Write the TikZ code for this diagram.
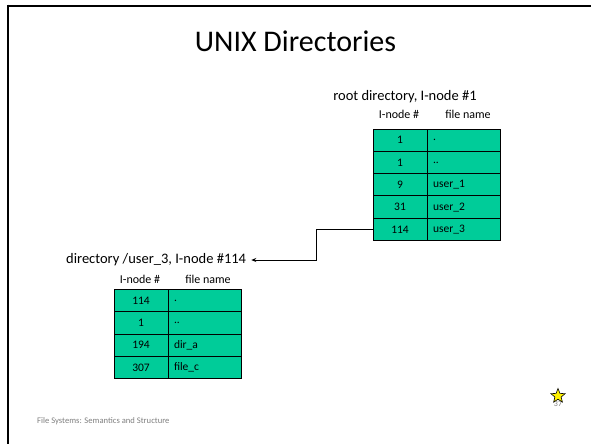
\documentclass[tikz,border=0pt]{standalone}
\usepackage{fontspec}
\setmainfont{Carlito}
\usetikzlibrary{shapes.geometric,arrows.meta}
\definecolor{cellgreen}{RGB}{0,204,153}
\definecolor{footgray}{RGB}{128,128,128}
\tikzset{
  numcell/.style={draw=black, line width=0.9pt, fill=cellgreen, minimum width=54pt, minimum height=22.3pt,
    inner sep=0pt, outer sep=0pt, font=\fontsize{11.5}{13}\selectfont, anchor=north west},
  namecell/.style={draw=black, line width=0.9pt, fill=cellgreen, minimum width=73pt, minimum height=22.3pt,
    inner sep=0pt, outer sep=0pt, font=\fontsize{11.5}{13}\selectfont, anchor=north west,
    text width=61pt, align=left},
  colhead/.style={font=\fontsize{12}{13}\selectfont, inner sep=0pt},
  dirlabel/.style={font=\fontsize{14.5}{16}\selectfont, inner sep=0pt},
  frame/.style={line width=2pt, black},
  link/.style={line width=0.9pt, black}
}
\begin{document}
\begin{tikzpicture}[x=1pt,y=-1pt]
  \useasboundingbox (0,0) rectangle (591,444);
  \fill[white] (0,0) rectangle (591,444);
  % slide frame
  \draw[frame] (7,5.7) -- (591,5.7);
  \draw[frame] (8.3,4.7) -- (8.3,444);

  % title
  \node[font=\fontsize{30}{34}\selectfont, inner sep=0pt] (title) at (295.5,41) {UNIX Directories};

  % root directory table
  \node[dirlabel] (rootlbl) at (405,97) {root directory, I-node \#1};
  \node[colhead] (rh1) at (399,114) {I-node \#};
  \node[colhead] (rh2) at (468,114) {file name};
  \node[numcell] (r1a) at (373,129) {1};
  \node[namecell] (r1b) at (r1a.north east) {.};
  \node[numcell] (r2a) at (r1a.south west) {1};
  \node[namecell] (r2b) at (r2a.north east) {..};
  \node[numcell] (r3a) at (r2a.south west) {9};
  \node[namecell] (r3b) at (r3a.north east) {user\_1};
  \node[numcell] (r4a) at (r3a.south west) {31};
  \node[namecell] (r4b) at (r4a.north east) {user\_2};
  \node[numcell] (r5a) at (r4a.south west) {114};
  \node[namecell] (r5b) at (r5a.north east) {user\_3};

  % /user_3 directory table
  \node[dirlabel, anchor=west] (sublbl) at (66,260) {directory /user\_3, I-node \#114};
  \node[colhead] (sh1) at (140,279) {I-node \#};
  \node[colhead] (sh2) at (208,279) {file name};
  \node[numcell] (s1a) at (114,289.5) {114};
  \node[namecell] (s1b) at (s1a.north east) {.};
  \node[numcell] (s2a) at (s1a.south west) {1};
  \node[namecell] (s2b) at (s2a.north east) {..};
  \node[numcell] (s3a) at (s2a.south west) {194};
  \node[namecell] (s3b) at (s3a.north east) {dir\_a};
  \node[numcell] (s4a) at (s3a.south west) {307};
  \node[namecell] (s4b) at (s4a.north east) {file\_c};

  % link from the user_3 entry to its directory
  \coordinate (bend) at (316,0);
  \draw[link, -{Stealth[length=5pt,width=4pt]}, shorten >=5pt]
    (r5a.west) -- (r5a.west -| bend) |- (sublbl.east);

  % footer
  \node[font=\fontsize{8.6}{10}\selectfont, text=footgray, anchor=west, inner sep=0pt] (foot) at (37,421) {File Systems: Semantics and Structure};
  \node[font=\fontsize{8}{9}\selectfont, text=footgray, inner sep=0pt] (pagenum) at (558,404) {37};
  \node[star, star points=5, star point ratio=2.3, draw=black, line width=0.6pt, fill=yellow,
    minimum size=15pt, inner sep=0pt] (mark) at (558,396) {};
\end{tikzpicture}
\end{document}
